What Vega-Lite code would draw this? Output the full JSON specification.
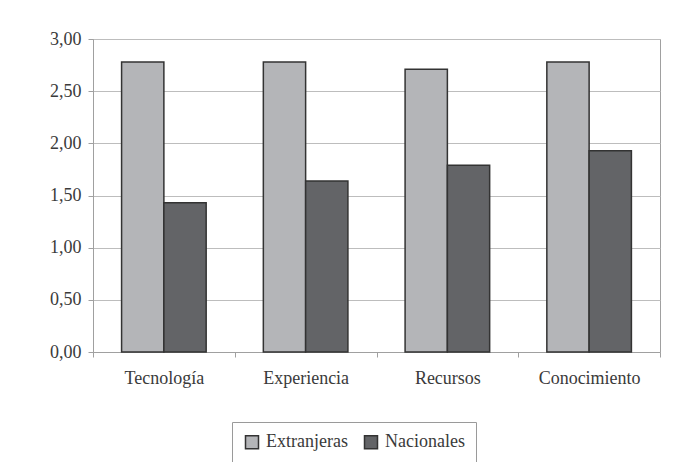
{
  "$schema": "https://vega.github.io/schema/vega-lite/v6.json",
  "width": 567,
  "height": 313,
  "autosize": {"type": "none"},
  "padding": {"left": 93, "top": 39, "right": 36, "bottom": 110},
  "background": "white",
  "data": {
    "values": [
      {"factor": "Tecnología", "origen": "Extranjeras", "valor": 2.78},
      {"factor": "Tecnología", "origen": "Nacionales", "valor": 1.43},
      {"factor": "Experiencia", "origen": "Extranjeras", "valor": 2.78},
      {"factor": "Experiencia", "origen": "Nacionales", "valor": 1.64},
      {"factor": "Recursos", "origen": "Extranjeras", "valor": 2.71},
      {"factor": "Recursos", "origen": "Nacionales", "valor": 1.79},
      {"factor": "Conocimiento", "origen": "Extranjeras", "valor": 2.78},
      {"factor": "Conocimiento", "origen": "Nacionales", "valor": 1.93}
    ]
  },
  "mark": {"type": "bar", "stroke": "#333333", "strokeWidth": 1.5},
  "encoding": {
    "x": {
      "field": "factor",
      "type": "nominal",
      "sort": ["Tecnología", "Experiencia", "Recursos", "Conocimiento"],
      "scale": {"paddingInner": 0, "paddingOuter": 0},
      "axis": {
        "title": null,
        "labelAngle": 0,
        "tickBand": "extent",
        "tickSize": 5,
        "labelPadding": 12,
        "grid": false
      }
    },
    "xOffset": {
      "field": "origen",
      "type": "nominal",
      "scale": {"paddingInner": 0, "paddingOuter": 0.676}
    },
    "y": {
      "field": "valor",
      "type": "quantitative",
      "scale": {"domain": [0, 3], "nice": false},
      "axis": {
        "title": null,
        "values": [0, 0.5, 1, 1.5, 2, 2.5, 3],
        "format": ".2f",
        "tickSize": 5,
        "labelPadding": 7,
        "grid": true
      }
    },
    "color": {
      "field": "origen",
      "type": "nominal",
      "scale": {"domain": ["Extranjeras", "Nacionales"], "range": ["#b4b5b8", "#636467"]},
      "legend": {
        "title": null,
        "orient": "none",
        "direction": "horizontal",
        "legendX": 139,
        "legendY": 383,
        "strokeColor": "#9a9a9a",
        "padding": 11,
        "symbolType": "square",
        "symbolSize": 169,
        "symbolStrokeColor": "#333333",
        "symbolStrokeWidth": 1.5,
        "labelOffset": 5,
        "columnPadding": 13
      }
    }
  },
  "config": {
    "locale": {
      "number": {"decimal": ",", "thousands": ".", "grouping": [3], "currency": ["", " €"]}
    },
    "view": {"stroke": "#a0a0a0", "strokeWidth": 1},
    "axis": {
      "labelFont": "'Liberation Serif', 'DejaVu Serif', serif",
      "labelFontSize": 18,
      "labelColor": "#3a3a3a",
      "domainColor": "#a0a0a0",
      "tickColor": "#a0a0a0",
      "gridColor": "#bdbdbd",
      "gridOpacity": 1
    },
    "legend": {
      "labelFont": "'Liberation Serif', 'DejaVu Serif', serif",
      "labelFontSize": 18,
      "labelColor": "#3a3a3a"
    }
  }
}
